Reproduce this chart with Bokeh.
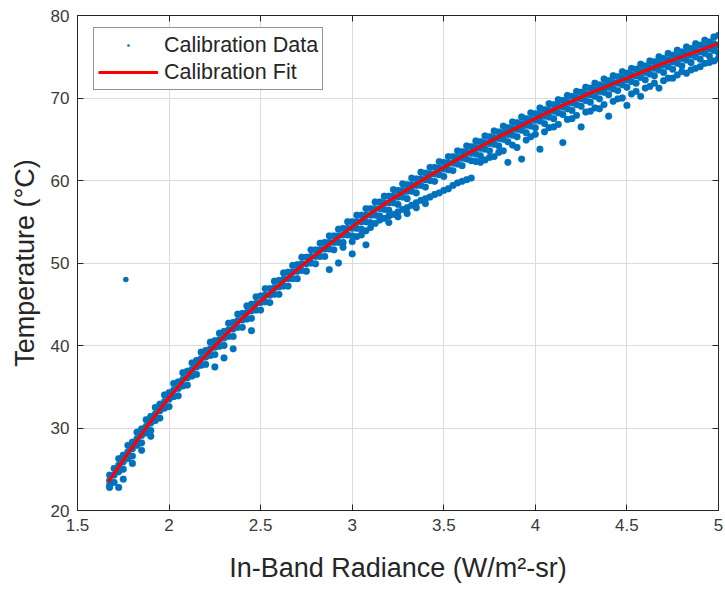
from bokeh.plotting import figure
from bokeh.models import Range1d, FixedTicker, LinearAxis, CustomJSTickFormatter, ColumnDataSource, Legend, LegendItem
from bokeh.embed import file_html
from bokeh.resources import INLINE

# ---------------- data ----------------
x_ticks = [1.5, 2, 2.5, 3, 3.5, 4, 4.5, 5]
y_ticks = [20, 30, 40, 50, 60, 70, 80]

# calibration data: column positions (radiance) and the temperatures seen at each column
band_x = [1.675, 1.700, 1.725, 1.750, 1.775, 1.800, 1.825, 1.850, 1.875, 1.900,
          1.925, 1.950, 1.975, 2.000, 2.025, 2.050, 2.075, 2.100, 2.125, 2.150,
          2.175, 2.200, 2.225, 2.250, 2.275, 2.300, 2.325, 2.350, 2.375, 2.400,
          2.425, 2.450, 2.475, 2.500, 2.525, 2.550, 2.575, 2.600, 2.625, 2.650,
          2.675, 2.700, 2.725, 2.750, 2.775, 2.800, 2.825, 2.850, 2.875, 2.900,
          2.925, 2.950, 2.975, 3.000, 3.025, 3.050, 3.075, 3.100, 3.125, 3.150,
          3.175, 3.200, 3.225, 3.250, 3.275, 3.300, 3.325, 3.350, 3.375, 3.400,
          3.425, 3.450, 3.475, 3.500, 3.525, 3.550, 3.575, 3.600, 3.625, 3.650,
          3.675, 3.700, 3.725, 3.750, 3.775, 3.800, 3.825, 3.850, 3.875, 3.900,
          3.925, 3.950, 3.975, 4.000, 4.025, 4.050, 4.075, 4.100, 4.125, 4.150,
          4.175, 4.200, 4.225, 4.250, 4.275, 4.300, 4.325, 4.350, 4.375, 4.400,
          4.425, 4.450, 4.475, 4.500, 4.525, 4.550, 4.575, 4.600, 4.625, 4.650,
          4.675, 4.700, 4.725, 4.750, 4.775, 4.800, 4.825, 4.850, 4.875, 4.900,
          4.925, 4.950, 4.975, 5.000]

band_y = [
    [24.3, 23.6, 23.0, 22.8], [25.1, 24.3, 23.4], [26.3, 25.5, 24.7, 22.8],
    [26.7, 25.9, 25.0, 26.6, 23.8], [27.9, 27.1, 26.3, 26.6], [28.3, 27.5, 26.6, 25.7],
    [29.5, 28.7, 27.9], [29.9, 29.1, 28.2, 27.3], [31.0, 30.2, 29.4],
    [31.4, 30.6, 29.7, 29.0], [32.5, 31.7, 30.9], [32.9, 32.1, 31.2],
    [34.0, 33.2, 32.4], [34.3, 33.5, 32.6], [35.4, 34.6, 33.8],
    [35.6, 34.8, 33.9], [36.7, 35.9, 35.1], [36.9, 36.1, 35.2],
    [37.9, 37.1, 36.3], [38.2, 37.4, 36.5], [39.2, 38.4, 37.6],
    [39.4, 38.6, 37.7], [40.4, 39.6, 38.8], [40.6, 39.8, 38.9, 37.4],
    [41.5, 40.7, 39.9], [41.7, 40.9, 40.0, 38.5], [42.7, 41.9, 41.1],
    [42.8, 42.0, 41.1, 39.6], [43.8, 43.0, 42.2], [43.9, 43.1, 42.2],
    [44.8, 44.0, 43.2], [45.0, 44.2, 43.3, 41.8], [45.9, 45.1, 44.3],
    [46.0, 45.2, 44.3], [46.9, 46.1, 45.3], [46.9, 46.1, 45.2],
    [47.8, 47.0, 46.2], [47.9, 47.1, 46.2], [48.8, 48.0, 47.2],
    [48.9, 48.1, 47.2], [49.7, 48.9, 48.1], [49.8, 49.0, 48.1],
    [50.7, 49.9, 49.1], [50.7, 49.9, 49.0], [51.6, 50.8, 50.0],
    [51.6, 50.8, 49.9], [52.4, 51.6, 50.8], [52.5, 51.7, 50.8],
    [53.3, 52.5, 51.7, 49.2], [53.3, 52.5, 51.6], [54.1, 53.3, 52.5, 50.0],
    [54.2, 53.4, 52.5, 51.9], [55.0, 54.2, 53.4], [55.0, 54.2, 53.3, 52.6, 51.1],
    [55.8, 55.0, 54.2, 53.2], [55.8, 55.0, 54.1, 53.4], [56.6, 55.8, 55.0, 53.9, 52.2],
    [56.6, 55.8, 54.9, 54.3], [57.4, 56.6, 55.8, 54.8], [57.4, 56.6, 55.7, 55.2],
    [58.1, 57.3, 56.5, 55.4], [58.1, 57.3, 56.4, 55.7, 54.9], [58.9, 58.1, 57.3, 55.9],
    [58.8, 58.0, 57.1, 56.2, 55.6], [59.6, 58.8, 58.0, 56.5], [59.5, 58.7, 57.8, 56.7, 56.0],
    [60.3, 59.5, 58.7, 57.0], [60.2, 59.4, 58.5, 57.3, 56.7], [61.0, 60.2, 59.4, 57.6],
    [60.9, 60.1, 59.2, 57.8, 57.2], [61.6, 60.8, 60.0, 58.0], [61.6, 60.8, 59.9, 58.3],
    [62.3, 61.5, 60.7, 58.5], [62.2, 61.4, 60.5, 58.8], [62.9, 62.1, 61.3, 59.0],
    [62.9, 62.1, 61.2, 59.4], [63.6, 62.8, 62.0, 59.7], [63.5, 62.7, 61.8, 59.9],
    [64.2, 63.4, 62.6, 60.1], [64.1, 63.3, 62.4, 60.3], [64.8, 64.0, 63.2, 62.3],
    [64.7, 63.9, 63.0, 62.2], [65.4, 64.6, 63.8, 62.5], [65.3, 64.5, 63.6, 62.8],
    [66.0, 65.2, 64.4, 62.9], [65.9, 65.1, 64.2, 63.4], [66.6, 65.8, 65.0, 63.6],
    [66.4, 65.6, 64.7, 62.2], [67.1, 66.3, 65.5, 64.3], [67.0, 66.2, 65.3, 64.0],
    [67.7, 66.9, 66.1, 62.6], [67.5, 66.7, 65.8, 64.9], [68.2, 67.4, 66.6, 65.3],
    [68.1, 67.3, 66.4, 65.6], [68.8, 68.0, 67.2, 63.8], [68.6, 67.8, 66.9, 65.9],
    [69.3, 68.5, 67.7, 66.4], [69.2, 68.4, 67.5, 66.5], [69.8, 69.0, 68.2, 66.8],
    [69.7, 68.9, 68.0, 64.6], [70.3, 69.5, 68.7, 67.4], [70.2, 69.4, 68.5, 67.5],
    [70.8, 70.0, 69.2, 67.9], [70.7, 69.9, 69.0, 66.5], [71.3, 70.5, 69.7, 68.3],
    [71.2, 70.4, 69.5, 68.4], [71.8, 71.0, 70.2, 68.8], [71.6, 70.8, 69.9, 68.7],
    [72.3, 71.5, 70.7, 69.2], [72.1, 71.3, 70.4, 67.8], [72.7, 71.9, 71.1, 69.6],
    [72.6, 71.8, 70.9, 69.9], [73.2, 72.4, 71.6, 70.0], [73.0, 72.2, 71.3, 69.1],
    [73.6, 72.8, 72.0, 70.5], [73.5, 72.7, 71.8, 70.8], [74.1, 73.3, 72.5, 70.2],
    [73.9, 73.1, 72.2, 71.2], [74.5, 73.7, 72.9, 71.4], [74.4, 73.6, 72.7, 71.8],
    [75.0, 74.2, 73.4, 71.2], [74.8, 74.0, 73.1, 72.1], [75.4, 74.6, 73.8, 72.4],
    [75.2, 74.4, 73.5, 72.4], [75.8, 75.0, 74.2, 72.8], [75.6, 74.8, 73.9, 73.2],
    [76.2, 75.4, 74.6, 73.0], [76.0, 75.2, 74.3, 73.4], [76.6, 75.8, 75.0, 73.6],
    [76.4, 75.6, 74.7, 73.8], [77.0, 76.2, 75.4, 74.2], [76.8, 76.0, 75.1, 74.3],
    [77.4, 76.6, 75.8, 74.5, 75.8], [77.6, 76.4, 75.5, 74.8],
]

outlier_x = [1.764]
outlier_y = [48.0]

# calibration fit curve
fit_x = [1.67, 1.70, 1.80, 1.90, 2.00, 2.10, 2.20, 2.30, 2.40, 2.50, 2.60, 2.70,
         2.80, 2.90, 3.00, 3.10, 3.20, 3.30, 3.40, 3.50, 3.60, 3.70, 3.80, 3.90,
         4.00, 4.10, 4.20, 4.30, 4.40, 4.50, 4.60, 4.70, 4.80, 4.90, 5.00]
fit_y = [23.5, 24.5, 27.7, 30.8, 33.7, 36.3, 38.8, 41.1, 43.3, 45.4, 47.3, 49.2,
         51.0, 52.7, 54.4, 56.0, 57.5, 58.9, 60.3, 61.6, 62.9, 64.1, 65.3, 66.4,
         67.5, 68.6, 69.6, 70.6, 71.5, 72.4, 73.3, 74.2, 75.0, 75.8, 76.6]

# ---------------- table built from the readings ----------------
cal_x = [x for x, ys in zip(band_x, band_y) for _ in ys]
cal_y = [y for ys in band_y for y in ys]
src = ColumnDataSource(dict(x=cal_x, y=cal_y))
out_src = ColumnDataSource(dict(x=outlier_x, y=outlier_y))

FONT = "Liberation Sans"
DARK = "#262626"
BLUE = "#0072BD"

p = figure(width=725, height=592, output_backend="svg", toolbar_location=None,
           x_range=Range1d(1.5, 5), y_range=Range1d(20, 80),
           min_border_left=77, min_border_right=7, min_border_top=15, min_border_bottom=82,
           background_fill_color="white", border_fill_color="white")

p.outline_line_color = DARK
p.outline_line_width = 1

fmt = CustomJSTickFormatter(code="return tick.toString();")
blank = CustomJSTickFormatter(code="return '';")

for ax in p.xaxis:
    ax.ticker = FixedTicker(ticks=x_ticks)
    ax.formatter = fmt
    ax.axis_label = "In-Band Radiance (W/m²-sr)"
    ax.axis_label_standoff = 19
for ax in p.yaxis:
    ax.ticker = FixedTicker(ticks=y_ticks)
    ax.axis_label = "Temperature (°C)"
    ax.axis_label_standoff = 8

for ax in list(p.xaxis) + list(p.yaxis):
    ax.axis_label_text_font = FONT
    ax.axis_label_text_font_size = "27px"
    ax.axis_label_text_font_style = "normal"
    ax.axis_label_text_color = DARK
    ax.major_label_text_font = FONT
    ax.major_label_text_font_size = "17px"
    ax.major_label_text_color = "#3a3a3a"
    ax.major_label_standoff = 8
    ax.major_tick_in = 6
    ax.major_tick_out = 0
    ax.minor_tick_line_color = None
    ax.axis_line_color = DARK
    ax.major_tick_line_color = DARK

# tick marks on the top and right sides (box on), without labels
top = LinearAxis(ticker=FixedTicker(ticks=x_ticks), formatter=blank,
                 major_label_text_font_size="1px",
                 major_tick_in=6, major_tick_out=0, minor_tick_line_color=None,
                 axis_line_color=DARK, major_tick_line_color=DARK, major_label_standoff=0)
right = LinearAxis(ticker=FixedTicker(ticks=y_ticks), formatter=blank,
                   major_label_text_font_size="1px",
                   major_tick_in=6, major_tick_out=0, minor_tick_line_color=None,
                   axis_line_color=DARK, major_tick_line_color=DARK, major_label_standoff=0)
p.add_layout(top, "above")
p.add_layout(right, "right")

p.xgrid.ticker = FixedTicker(ticks=x_ticks)
p.ygrid.ticker = FixedTicker(ticks=y_ticks)
for g in list(p.xgrid) + list(p.ygrid):
    g.grid_line_color = "#dcdcdc"
    g.grid_line_width = 1

p.scatter("x", "y", source=src, size=6.8, fill_color=BLUE, line_color=BLUE, line_width=0.3)
# the lone outlier, drawn as a "dot" marker so that its legend key stays a small dot
out_r = p.scatter("x", "y", source=out_src, marker="dot", size=22, fill_color=BLUE,
                  line_color=BLUE, line_width=1)
fit_r = p.line(fit_x, fit_y, line_color="#FF0000", line_width=3.2)

lg = Legend(items=[LegendItem(label="Calibration Data", renderers=[out_r]),
                   LegendItem(label="Calibration Fit", renderers=[fit_r])],
            location=(16, 420))
lg.border_line_color = DARK
lg.border_line_width = 1
lg.background_fill_color = "white"
lg.background_fill_alpha = 1
lg.label_text_font = FONT
lg.label_text_font_size = "21.5px"
lg.label_text_color = DARK
lg.glyph_width = 60
lg.glyph_height = 26
lg.label_height = 26
lg.label_standoff = 6
lg.padding = 4
lg.spacing = 1
lg.margin = 0
p.add_layout(lg)

open("out.html", "w").write(file_html(p, INLINE))
